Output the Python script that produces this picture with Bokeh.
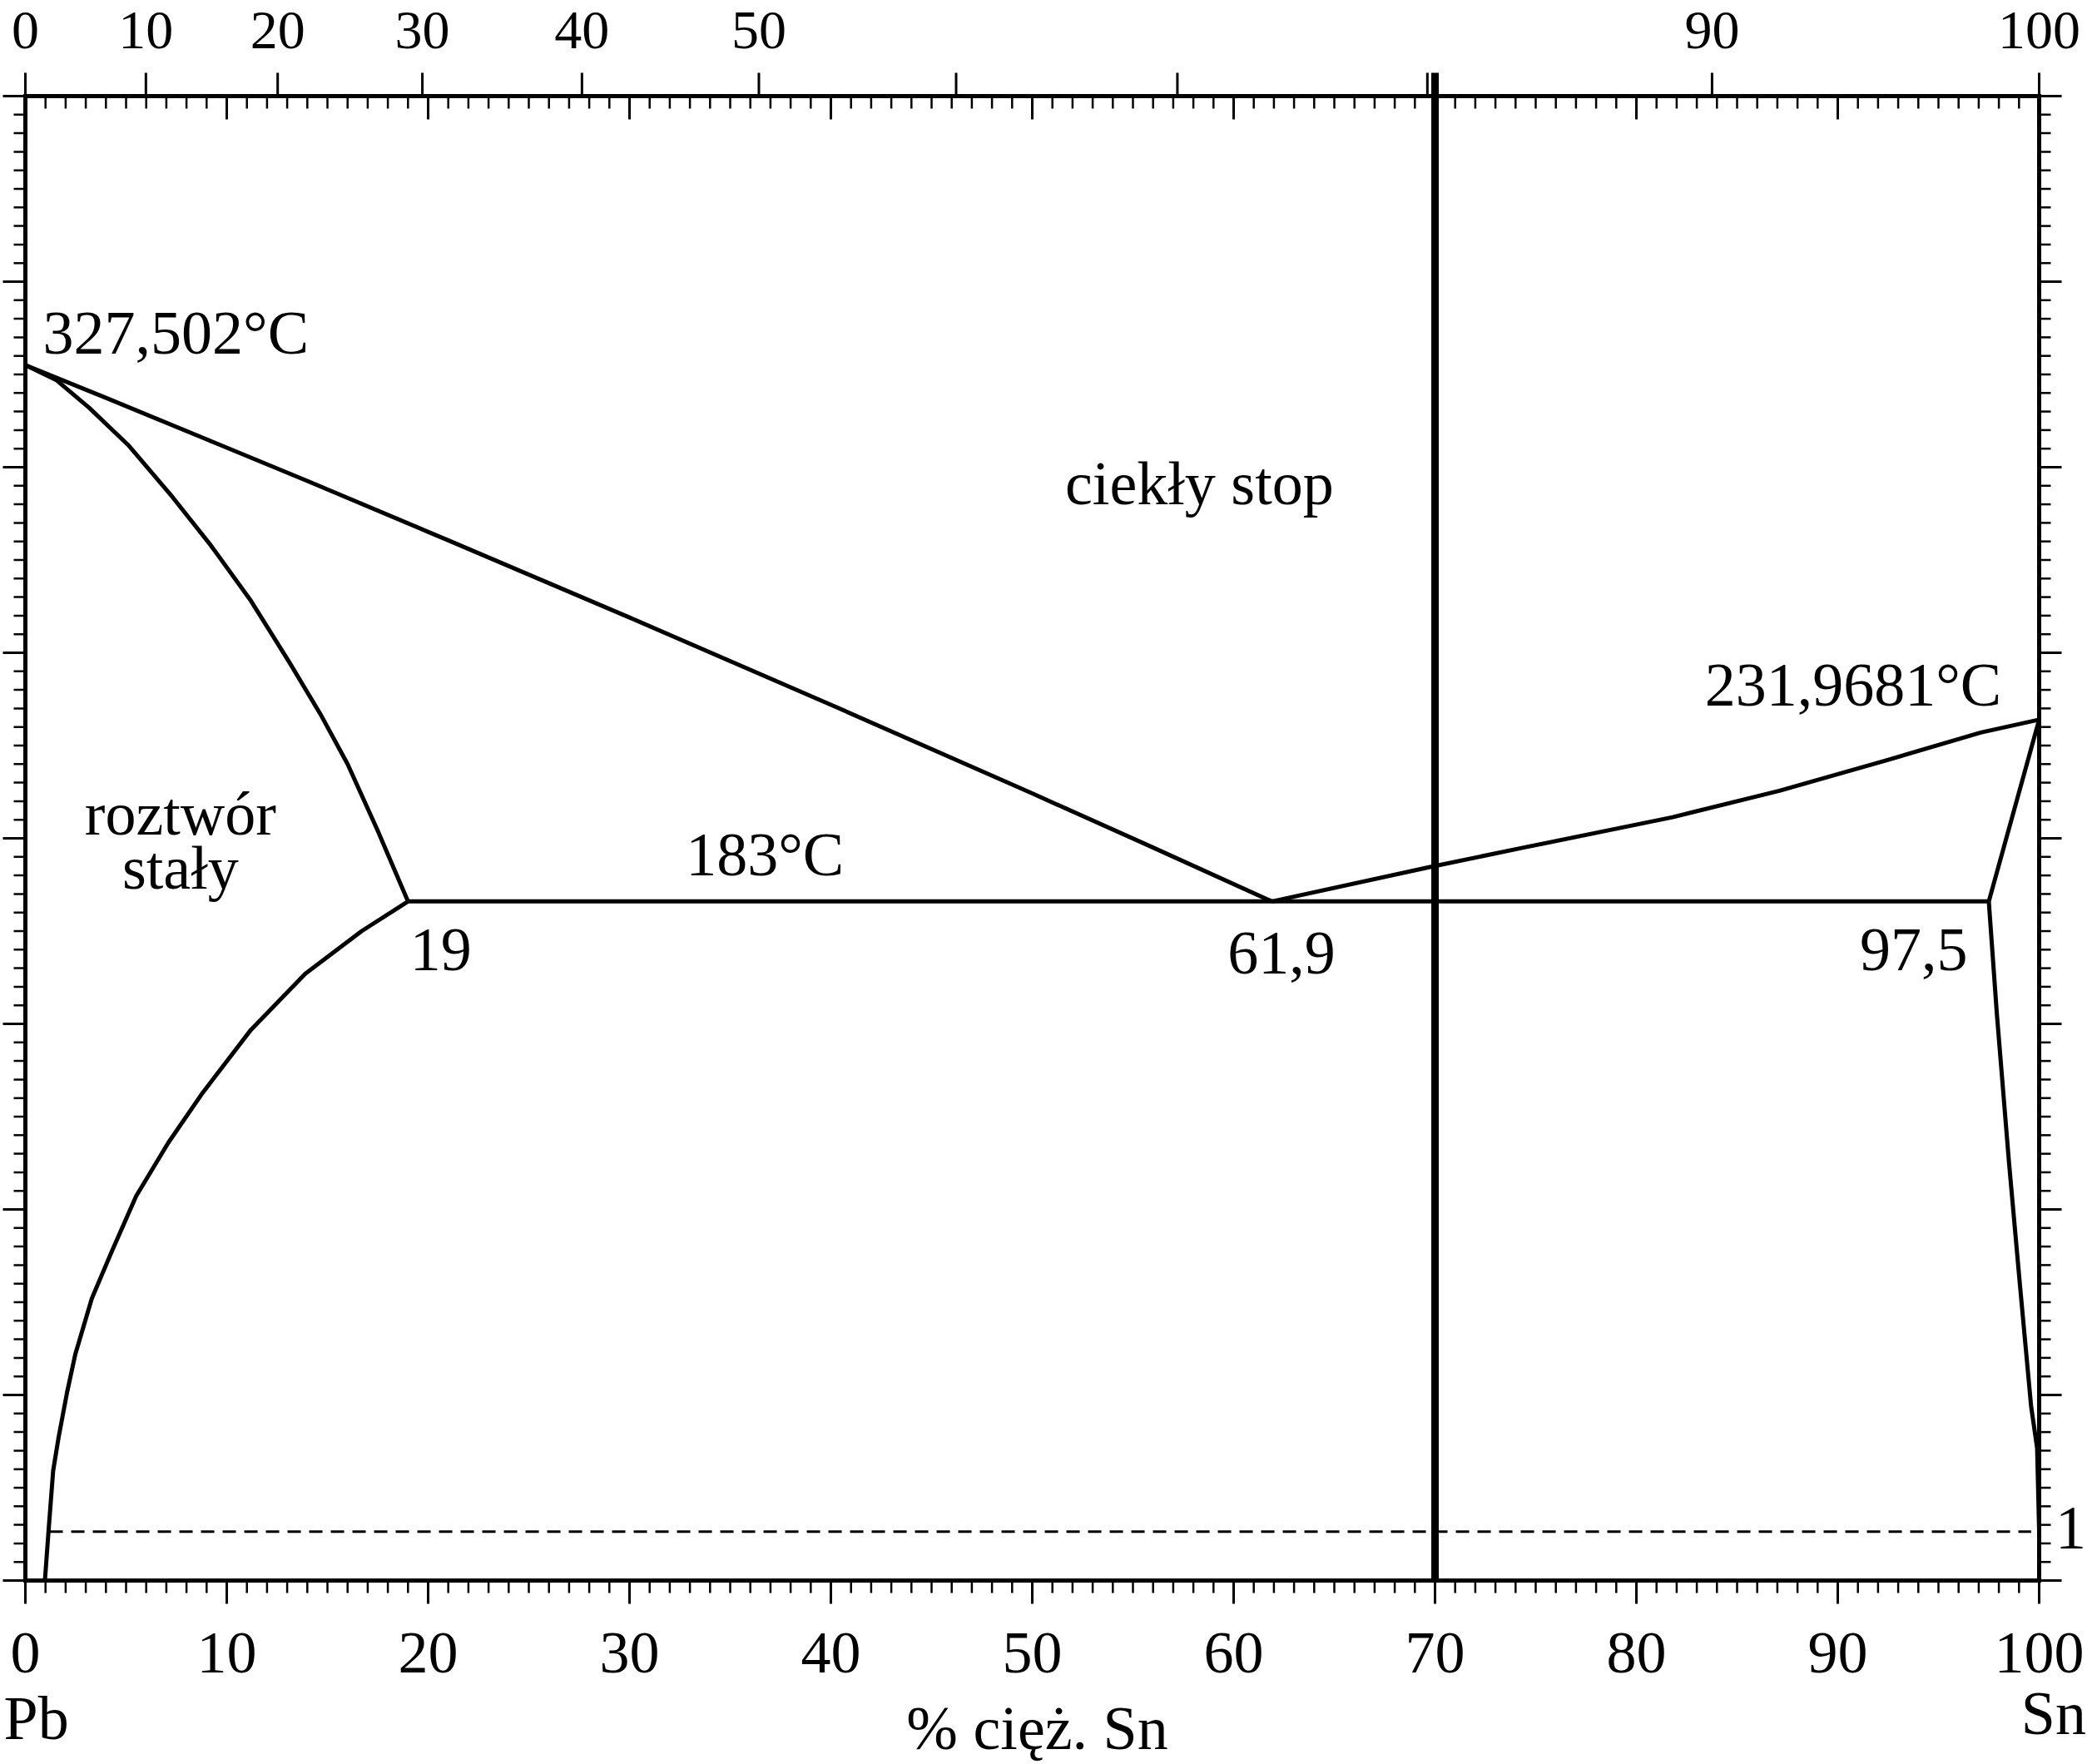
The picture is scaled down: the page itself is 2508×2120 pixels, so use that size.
from bokeh.plotting import figure
from bokeh.models import Range1d
from bokeh.core.properties import value
from bokeh.embed import file_html
from bokeh.resources import INLINE

FONT = "Liberation Serif"

# ---- data (wt.% Sn, temperature in deg C) ----
T_PB = 327.502
T_SN = 231.9681
T_EUT = 183.0
X_ALPHA = 19.0
X_EUT = 61.9
X_BETA = 97.5
T_PEST = 13.2

liq_left_x = [0.0, 4.0, 9.0, 14.0, 21.0, 30.0, 40.0, 50.0, 56.0, X_EUT]
liq_left_t = [T_PB, 318.7, 307.5, 296.3, 280.3, 259.5, 236.0, 212.1, 197.5, T_EUT]

sol_left_x = [0.0, 1.53, 3.17, 5.1, 7.3, 9.2, 11.2, 13.1, 14.7, 16.0, 17.5, X_ALPHA]
sol_left_t = [T_PB, 323.5, 316.0, 306.0, 292.0, 279.0, 264.0, 247.5, 233.0, 220.0, 202.0, T_EUT]

solv_left_x = [X_ALPHA, 16.7, 13.9, 11.2, 8.8, 7.1, 5.5, 4.3, 3.3, 2.48, 2.07, 1.65, 1.38, 1.17, 0.97]
solv_left_t = [T_EUT, 175.0, 163.5, 148.4, 131.4, 118.0, 103.6, 88.8, 76.0, 61.0, 50.7, 38.6, 29.6, 14.8, 0.0]

liq_right_x = [X_EUT, 69.7, 74.4, 81.8, 87.1, 92.4, 97.1, 100.0]
liq_right_t = [T_EUT, 192.2, 197.5, 205.7, 212.8, 221.0, 228.5, T_SN]

sol_right_x = [100.0, X_BETA]
sol_right_t = [T_SN, T_EUT]

solv_right_x = [X_BETA, 97.9, 98.5, 99.05, 99.6, 99.9, 100.0]
solv_right_t = [T_EUT, 152.7, 112.8, 79.4, 47.0, 35.7, T_PEST]

eut_x = [X_ALPHA, X_BETA]
pest_x = [1.2, 99.6]
alloy_x = 70.0

# bottom scale: wt.% Sn
wt_major = list(range(0, 101, 10))
wt_minor = [v for v in range(0, 101) if v % 10]
# top scale: at.% Sn
M_PB, M_SN = 207.2, 118.71
at_pct = [0, 10, 20, 30, 40, 50, 60, 70, 80, 90, 100]
at_labels = ["0", "10", "20", "30", "40", "50", "", "", "", "90", "100"]
at_pos = [100.0 * a * M_SN / (a * M_SN + (100 - a) * M_PB) for a in at_pct]
# temperature scale (deg C)
t_major = list(range(0, 401, 50))
t_minor = [v for v in range(0, 401, 5) if v % 50]

# annotations: (text, x, y baseline, align)
notes = [
    ("327,502°C", 0.87, 330.7, "left"),
    ("231,9681°C", 83.4, 235.8, "left"),
    ("ciekły stop", 58.3, 290.1, "center"),
    ("roztwór", 7.7, 201.0, "center"),
    ("stały", 7.7, 186.5, "center"),
    ("183°C", 32.8, 190.1, "left"),
    ("19", 19.1, 164.3, "left"),
    ("61,9", 59.7, 163.5, "left"),
    ("97,5", 91.1, 164.3, "left"),
    ("Pb", -1.07, -42.8, "left"),
    ("% cięż. Sn", 50.25, -45.3, "center"),
    ("Sn", 102.33, -41.3, "right"),
    ("1", 102.33, 8.5, "right"),
]

# ---- layout (pixels) ----
W, H = 2508, 2120
PX_L, PX_R = 30, 2450      # x of 0 and 100 wt.%
PY_B, PY_T = 1899, 115     # y of 0 and 400 deg C
SX = (PX_R - PX_L) / 100.0
SY = (PY_B - PY_T) / 400.0
TICK_MAJ, TICK_MIN = 28, 15
TEXT_DY = -25

p = figure(width=W, height=H,
           x_range=Range1d(-PX_L / SX, 100 + (W - PX_R) / SX),
           y_range=Range1d(-(H - PY_B) / SY, 400 + PY_T / SY),
           output_backend="svg", toolbar_location=None,
           x_axis_location=None, y_axis_location=None,
           min_border_left=0, min_border_right=0, min_border_top=0, min_border_bottom=0)
p.grid.visible = False
p.outline_line_color = None
p.background_fill_color = "white"
p.border_fill_color = "white"


def ticks_v(xs, y0, length_px, width):
    p.segment(x0=xs, y0=[y0] * len(xs), x1=xs, y1=[y0 + length_px / SY] * len(xs),
              line_color="black", line_width=width)


def ticks_h(ys, x0, length_px, width):
    p.segment(x0=[x0] * len(ys), y0=ys, x1=[x0 + length_px / SX] * len(ys), y1=ys,
              line_color="black", line_width=width)


# frame
p.segment(x0=[0, 0, 0, 100], y0=[0, 400, 0, 0], x1=[100, 100, 0, 100], y1=[0, 400, 400, 400],
          line_color="black", line_width=5, line_cap="square")

# bottom ticks (outward)
ticks_v(wt_major, 0, -TICK_MAJ, 3)
ticks_v(wt_minor, 0, -TICK_MIN, 2.5)
# top: at.% ticks outward, wt.% ticks inward
ticks_v(at_pos, 400, TICK_MAJ, 3)
ticks_v(wt_major, 400, -TICK_MAJ, 3)
ticks_v(wt_minor, 400, -TICK_MIN, 2.5)
# left / right temperature ticks (outward)
ticks_h(t_major, 0, -27, 3)
ticks_h(t_minor, 0, -14, 2.5)
ticks_h(t_major, 100, 27, 3)
ticks_h(t_minor, 100, 14, 2.5)

# tick labels
p.text(x=wt_major, y=[(PY_B - 2011) / SY] * len(wt_major), text=[str(v) for v in wt_major],
       text_font=value(FONT), text_font_size=value("72px"), text_color="black",
       text_align="center", text_baseline="alphabetic", y_offset=TEXT_DY)
top_x = [x for x, s in zip(at_pos, at_labels) if s]
top_s = [s for s in at_labels if s]
p.text(x=top_x, y=[(PY_B - 61) / SY] * len(top_x), text=top_s,
       text_font=value(FONT), text_font_size=value("66px"), text_color="black",
       text_align="center", text_baseline="alphabetic", y_offset=TEXT_DY)

# phase boundaries
lw = 5
for xs, ts in [(liq_left_x, liq_left_t), (sol_left_x, sol_left_t), (solv_left_x, solv_left_t),
               (liq_right_x, liq_right_t), (sol_right_x, sol_right_t), (solv_right_x, solv_right_t),
               (eut_x, [T_EUT, T_EUT])]:
    p.line(xs, ts, line_color="black", line_width=lw, line_join="round")
p.line(pest_x, [T_PEST, T_PEST], line_color="black", line_width=3, line_dash="16 10")
p.line([alloy_x, alloy_x], [0, 400 + TICK_MAJ / SY], line_color="black", line_width=9)

for al in ("left", "center", "right"):
    sel = [n for n in notes if n[3] == al]
    p.text(x=[n[1] for n in sel], y=[n[2] for n in sel], text=[n[0] for n in sel],
           text_font=value(FONT), text_font_size=value("74px"), text_color="black",
           text_align=al, text_baseline="alphabetic", y_offset=TEXT_DY)

open("out.html", "w").write(file_html(p, INLINE))
